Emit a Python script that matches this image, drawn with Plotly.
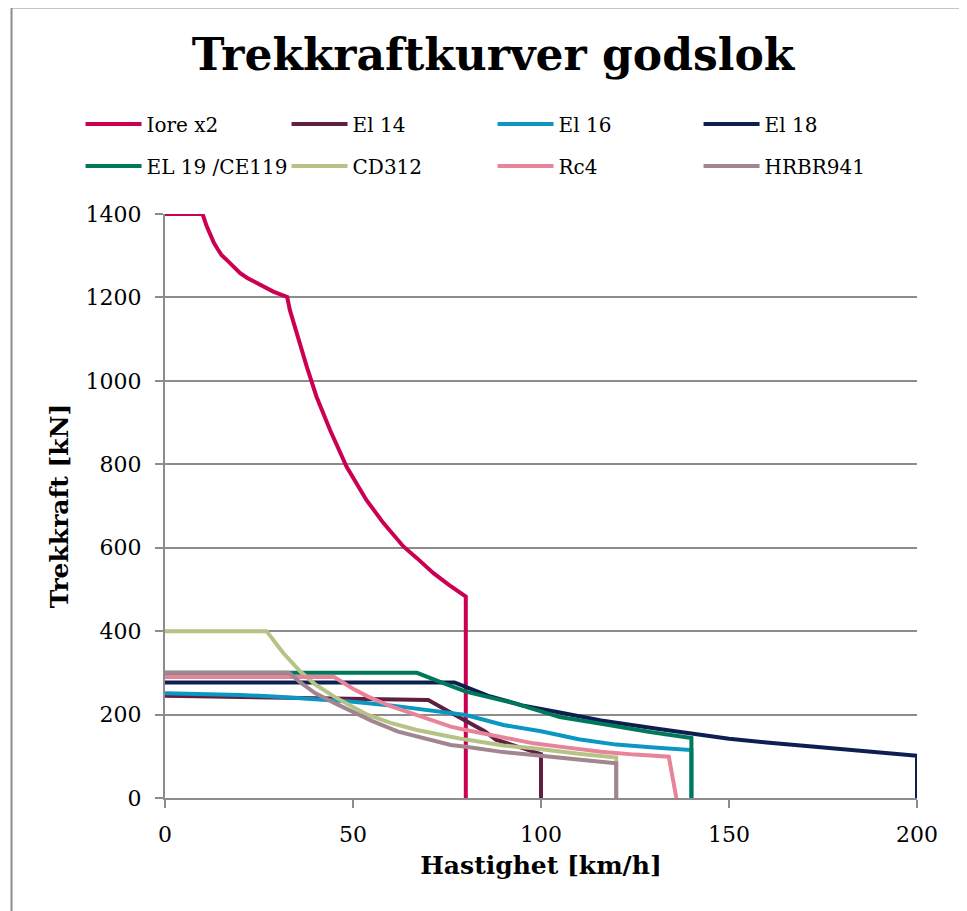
import plotly.graph_objects as go

# Trekkraftkurver for godslokomotiver
iore_x = [0, 10, 11, 12, 13, 14, 15, 16.4, 18, 20, 22, 24.4, 26.5, 28.8, 30.5, 32.5,
          33.2, 35, 37.7, 40.3, 43.9, 48.3, 53.6, 58.1, 63.4, 67, 71.4, 75.5, 80, 80]
iore_y = [1400, 1400, 1373, 1350, 1331, 1316, 1302, 1290, 1275, 1258, 1246, 1234, 1224, 1214, 1208, 1201,
          1170, 1114, 1034, 962, 882, 794, 714, 659, 603, 575, 539, 511, 483, 0]

el14_x = [0, 70, 75, 80, 85, 88, 95, 100, 100]
el14_y = [245, 235, 210, 185, 160, 140, 120, 105, 0]

el16_x = [0, 10, 20, 30, 40, 50, 60, 70, 80, 90, 100, 110, 120, 130, 140, 140]
el16_y = [251, 250, 247, 243, 237, 231, 222, 211, 199, 175, 160, 141, 128, 121, 115, 0]

el18_x = [0, 77, 86, 95, 105, 116, 130, 142, 150, 160, 173, 187, 200, 200]
el18_y = [277, 277, 245, 222, 205, 186, 167, 152, 142, 133, 123, 112, 101, 0]

el19_x = [0, 67, 73, 80, 93, 105, 116, 129, 140, 140]
el19_y = [300, 300, 279, 255, 227, 194, 178, 158, 144, 0]

cd312_x = [0, 27, 31.5, 36, 40, 45, 50, 54, 60, 67, 76, 80, 90, 98, 110, 120, 120]
cd312_y = [400, 400, 347, 303, 272, 243, 218, 199, 180, 163, 147, 140, 126, 119, 106, 97, 0]

rc4_x = [0, 45, 50, 54, 60, 67, 76, 80, 90, 98, 106, 116, 125, 134, 136]
rc4_y = [290, 290, 262, 243, 220, 199, 171, 163, 145, 131, 122, 111, 104, 99, 0]

hrbr_x = [0, 33, 36, 40, 45, 49, 55, 62, 70, 76, 80, 90, 98, 110, 120, 120]
hrbr_y = [300, 300, 277, 251, 228, 211, 185, 159, 140, 127, 123, 110, 103, 92, 83, 0]

serier = [
    ("Iore x2", iore_x, iore_y, "#CC0052", "legend"),
    ("El 14", el14_x, el14_y, "#5E1F43", "legend"),
    ("El 16", el16_x, el16_y, "#0A97C1", "legend"),
    ("El 18", el18_x, el18_y, "#0B1F50", "legend"),
    ("EL 19 /CE119", el19_x, el19_y, "#00795A", "legend2"),
    ("CD312", cd312_x, cd312_y, "#B5C486", "legend2"),
    ("Rc4", rc4_x, rc4_y, "#E8849A", "legend2"),
    ("HRBR941", hrbr_x, hrbr_y, "#A2858F", "legend2"),
]

grid = "#8c8c8c"
font = "DejaVu Serif"

fig = go.Figure()
for navn, xs, ys, farge, leg in serier:
    fig.add_trace(go.Scatter(
        x=xs, y=ys, name=navn, mode="lines",
        line=dict(color=farge, width=4),
        legend=leg,
    ))

# Felles legendeoppsett (to rader)
leg_felles = dict(
    orientation="h", xanchor="left", yanchor="middle",
    font=dict(family=font, size=20, color="black"),
    entrywidth=135, entrywidthmode="pixels",
    itemwidth=56, bgcolor="rgba(0,0,0,0)",
)

# Siden har 8 px marg rundt figuren, derfor 959 x 903
fig.update_layout(
    width=959, height=903,
    margin=dict(l=157, r=50, t=206, b=113),
    paper_bgcolor="white", plot_bgcolor="white",
    title=dict(
        text="<b>Trekkraftkurver godslok</b>",
        font=dict(family=font, size=44, color="black"),
        x=0.5057, xanchor="center", xref="container",
        y=1 - 47 / 903, yanchor="middle", yref="container",
    ),
    legend=dict(x=-0.1123, y=1.154, **leg_felles),
    legend2=dict(x=-0.1123, y=1.082, **leg_felles),
    xaxis=dict(
        range=[0, 200], dtick=50, showgrid=False,
        showline=True, linecolor=grid, linewidth=2,
        ticks="outside", ticklen=8, tickwidth=2, tickcolor=grid,
        ticklabelstandoff=8,
        tickfont=dict(family=font, size=22, color="black"),
        title=dict(text="<b>Hastighet [km/h]</b>", standoff=10,
                   font=dict(family=font, size=25, color="black")),
        zeroline=False,
    ),
    yaxis=dict(
        range=[0, 1400], dtick=200, showgrid=True, gridcolor=grid, gridwidth=2,
        showline=True, linecolor=grid, linewidth=2,
        ticks="outside", ticklen=8, tickwidth=2, tickcolor=grid,
        ticklabelstandoff=9,
        tickfont=dict(family=font, size=22, color="black"),
        title=dict(text="<b>Trekkraft [kN]</b>", standoff=10,
                   font=dict(family=font, size=25, color="black")),
        zeroline=False,
    ),
    showlegend=True,
)

# Ramme rundt hele diagrammet
fig.add_shape(type="rect", xref="paper", yref="paper",
              x0=-0.2041, x1=1.08, y0=-0.21, y1=1.3536,
              line=dict(color=grid, width=2), fillcolor="rgba(0,0,0,0)", layer="below")

fig.write_html("out.html")
